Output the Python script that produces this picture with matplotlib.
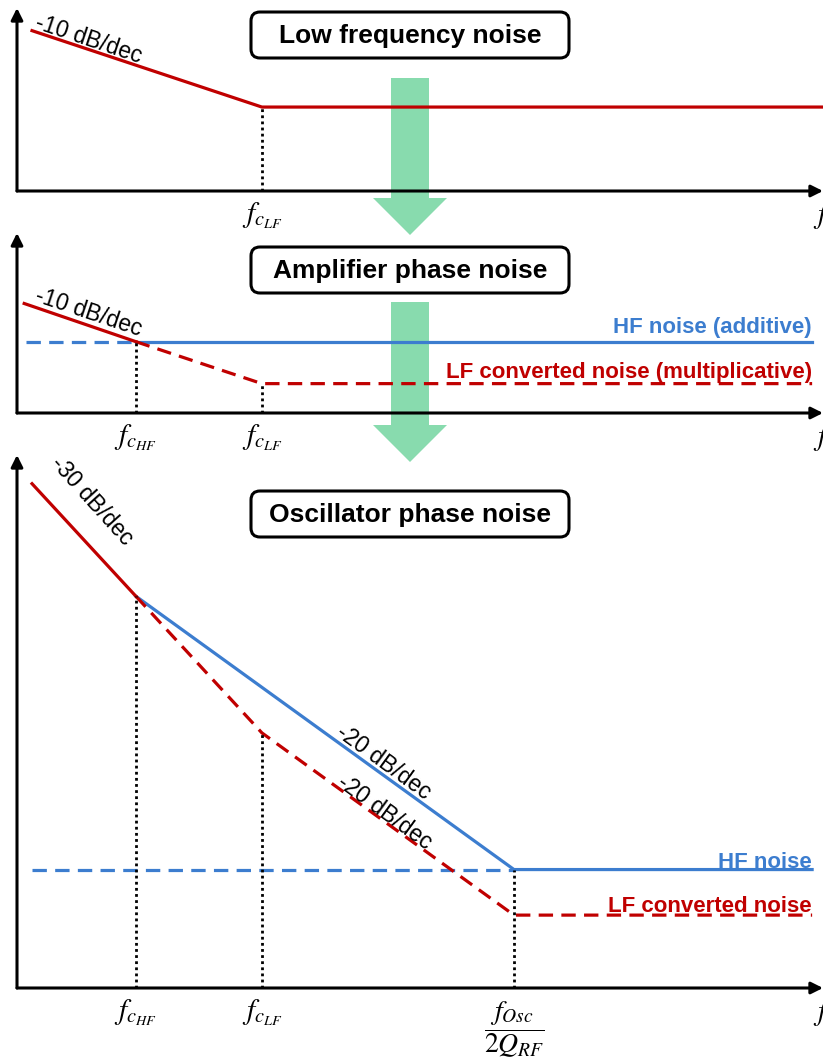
import numpy as np
import matplotlib.pyplot as plt
from matplotlib.patches import FancyBboxPatch

plt.rcParams['font.family'] = ['Liberation Sans', 'DejaVu Sans']
plt.rcParams['mathtext.fontset'] = 'stix'

# ---- colours ----
RED = '#C00000'
BLUE = '#3C7DCF'
GREEN = '#88DBAE'

# ---- corner frequencies (Hz, schematic) ----
F_START = 1.5
F_START_AMP = 1.3
F_CHF = 10.0
F_CLF = 100.0
F_OSC_2Q = 1.0e4
F_END = 2.32e6
F_AXIS = (1.14, 2.83e6)

# ---- panel 1 : low frequency noise (dB) ----
lf_f = [F_START, F_CLF, F_AXIS[1]]
lf_db = [38.2, 20, 20]

# ---- panel 2 : amplifier phase noise (dB) ----
amp_red_f = [F_START_AMP, F_CHF]
amp_red_db = [26.1, 17]
amp_hf_dash_f = [1.35, F_CHF]
amp_hf_dash_db = [17, 17]
amp_hf_f = [F_CHF, F_END]
amp_hf_db = [17, 17]
amp_lf_f = [F_CHF, F_CLF, F_END]
amp_lf_db = [17, 7, 7]

# ---- panel 3 : oscillator phase noise (dB) ----
osc_red_f = [F_START, F_CHF]
osc_red_db = [110.7, 86]
osc_hf_f = [F_CHF, F_OSC_2Q, F_END]
osc_hf_db = [86, 26, 26]
osc_hf_dash_f = [F_START, F_OSC_2Q]
osc_hf_dash_db = [26, 26]
osc_lf_f = [F_CHF, F_CLF, F_OSC_2Q, F_END]
osc_lf_db = [86, 56, 16, 16]

W, H = 823, 1063
fig = plt.figure(figsize=(W / 100, H / 100), dpi=100)


def px_axes(left, top, right, bottom, z=1):
    return fig.add_axes([left / W, 1 - bottom / H, (right - left) / W, (bottom - top) / H], zorder=z)


def level_at(f, fs, dbs):
    return np.interp(np.log10(f), np.log10(fs), dbs)


# ==========================================
# BACKGROUND: green arrows and title boxes
# ==========================================
bg = px_axes(0, 0, W, H, z=0)
bg.set_xlim(0, W)
bg.set_ylim(H, 0)
bg.axis('off')

for y0, y1 in [(78, 235), (302, 462)]:
    bg.arrow(410, y0, 0, y1 - y0, width=38, head_width=74, head_length=37,
             length_includes_head=True, color=GREEN, lw=0)

titles = ["Low frequency noise", "Amplifier phase noise", "Oscillator phase noise"]
title_tops = [12, 247, 491]
for title, top in zip(titles, title_tops):
    box = FancyBboxPatch((251, top), 318, 46, boxstyle='round,pad=0,rounding_size=9',
                         facecolor='white', edgecolor='black', lw=2.2)
    bg.add_patch(box)
    bg.text(410, top + 24, title, ha='center', va='center', fontsize=19, fontweight='bold')


# ==========================================
# PANEL AXES
# ==========================================
def setup(ax, ymax):
    ax.set_xscale('log')
    ax.set_xlim(*F_AXIS)
    ax.set_ylim(0, ymax)
    ax.set_facecolor('none')
    for s in ax.spines.values():
        s.set_visible(False)
    ax.set_xticks([])
    ax.set_yticks([])
    ax.minorticks_off()
    arrow = dict(arrowstyle='-|>,head_length=0.5,head_width=0.25', lw=2.2, color='black',
                 shrinkA=0, shrinkB=0, mutation_scale=14)
    ax.annotate('', xy=(0, 1), xytext=(0, 0), xycoords='axes fraction', arrowprops=arrow,
                annotation_clip=False)
    ax.annotate('', xy=(1, 0), xytext=(0, 0), xycoords='axes fraction', arrowprops=arrow,
                annotation_clip=False)
    ax.annotate(r'$f$', xy=(1, 0), xycoords='axes fraction', xytext=(-7, -18),
                textcoords='offset points', ha='left', va='center', fontsize=21,
                annotation_clip=False)


def corners(ax, fs, dbs, labels):
    ax.vlines(fs, 0, dbs, colors='black', linestyles=(0, (1, 1.2)), lw=2.0)
    for f, lab in zip(fs, labels):
        ax.annotate(lab, xy=(f, 0), xytext=(0, -18), textcoords='offset points',
                    ha='center', va='center', fontsize=21, annotation_clip=False)


LW = 2.3
DASH = (0, (4.5, 2.6))
SLOPE_FS = 16.5

# --- panel 1 ---
ax1 = px_axes(17, 8, W, 191)
setup(ax1, 43.6)
ax1.plot(lf_f, lf_db, color=RED, lw=LW, clip_on=False)
corners(ax1, [F_CLF], [20], [r'$f_{c_{LF}}$'])
ax1.annotate('-10 dB/dec', xy=(1.55, level_at(1.55, lf_f, lf_db)), xytext=(0, 2),
             textcoords='offset points', rotation=-18.5, rotation_mode='anchor',
             ha='left', va='baseline', fontsize=SLOPE_FS)

# --- panel 2 ---
ax2 = px_axes(17, 233, W, 413)
setup(ax2, 42.9)
ax2.plot(amp_hf_dash_f, amp_hf_dash_db, color=BLUE, lw=LW, linestyle=DASH)
ax2.plot(amp_hf_f, amp_hf_db, color=BLUE, lw=LW)
ax2.plot(amp_lf_f, amp_lf_db, color=RED, lw=LW, linestyle=DASH)
ax2.plot(amp_red_f, amp_red_db, color=RED, lw=LW)
corners(ax2, [F_CHF, F_CLF], [17, 7], [r'$f_{c_{HF}}$', r'$f_{c_{LF}}$'])
ax2.annotate('-10 dB/dec', xy=(1.55, level_at(1.55, amp_red_f, amp_red_db)), xytext=(0, 4),
             textcoords='offset points', rotation=-18.5, rotation_mode='anchor',
             ha='left', va='baseline', fontsize=SLOPE_FS)
ax2.annotate('HF noise (additive)', xy=(F_END, 17), xytext=(0, 6.5), textcoords='offset points',
             ha='right', va='baseline', fontsize=16, fontweight='bold', color=BLUE)
ax2.annotate('LF converted noise (multiplicative)', xy=(F_END, 7), xytext=(0, 4.3),
             textcoords='offset points', ha='right', va='baseline', fontsize=16,
             fontweight='bold', color=RED)

# --- panel 3 ---
ax3 = px_axes(17, 455, W, 988)
setup(ax3, 117)
ax3.plot(osc_hf_dash_f, osc_hf_dash_db, color=BLUE, lw=LW, linestyle=DASH)
ax3.plot(osc_hf_f, osc_hf_db, color=BLUE, lw=LW)
ax3.plot(osc_lf_f, osc_lf_db, color=RED, lw=LW, linestyle=DASH)
ax3.plot(osc_red_f, osc_red_db, color=RED, lw=LW)
corners(ax3, [F_CHF, F_CLF], [86, 56], [r'$f_{c_{HF}}$', r'$f_{c_{LF}}$'])
ax3.vlines([F_OSC_2Q], 0, [26], colors='black', linestyles=(0, (1, 1.2)), lw=2.0)
ax3.annotate(r'$\dfrac{f_{Osc}}{2Q_{RF}}$', xy=(F_OSC_2Q, 0), xytext=(0, -30),
             textcoords='offset points', ha='center', va='center', fontsize=20,
             annotation_clip=False)

ax3.annotate('-30 dB/dec', xy=(F_START, osc_red_db[0]), xytext=(13, 14),
             textcoords='offset points', rotation=-48, rotation_mode='anchor',
             ha='left', va='baseline', fontsize=SLOPE_FS)
ax3.annotate('-20 dB/dec', xy=(365, level_at(365, osc_hf_f, osc_hf_db)), xytext=(1.4, 2.6),
             textcoords='offset points', rotation=-36, rotation_mode='anchor',
             ha='left', va='baseline', fontsize=SLOPE_FS)
ax3.annotate('-20 dB/dec', xy=(380, level_at(380, osc_lf_f, osc_lf_db)), xytext=(0.6, 0.8),
             textcoords='offset points', rotation=-36, rotation_mode='anchor',
             ha='left', va='baseline', fontsize=SLOPE_FS)
ax3.annotate('HF noise', xy=(F_END, 26), xytext=(0, 1.4), textcoords='offset points',
             ha='right', va='baseline', fontsize=16, fontweight='bold', color=BLUE)
ax3.annotate('LF converted noise', xy=(F_END, 16), xytext=(0, 2.2), textcoords='offset points',
             ha='right', va='baseline', fontsize=16, fontweight='bold', color=RED)

fig.savefig('out.png', dpi=100)
